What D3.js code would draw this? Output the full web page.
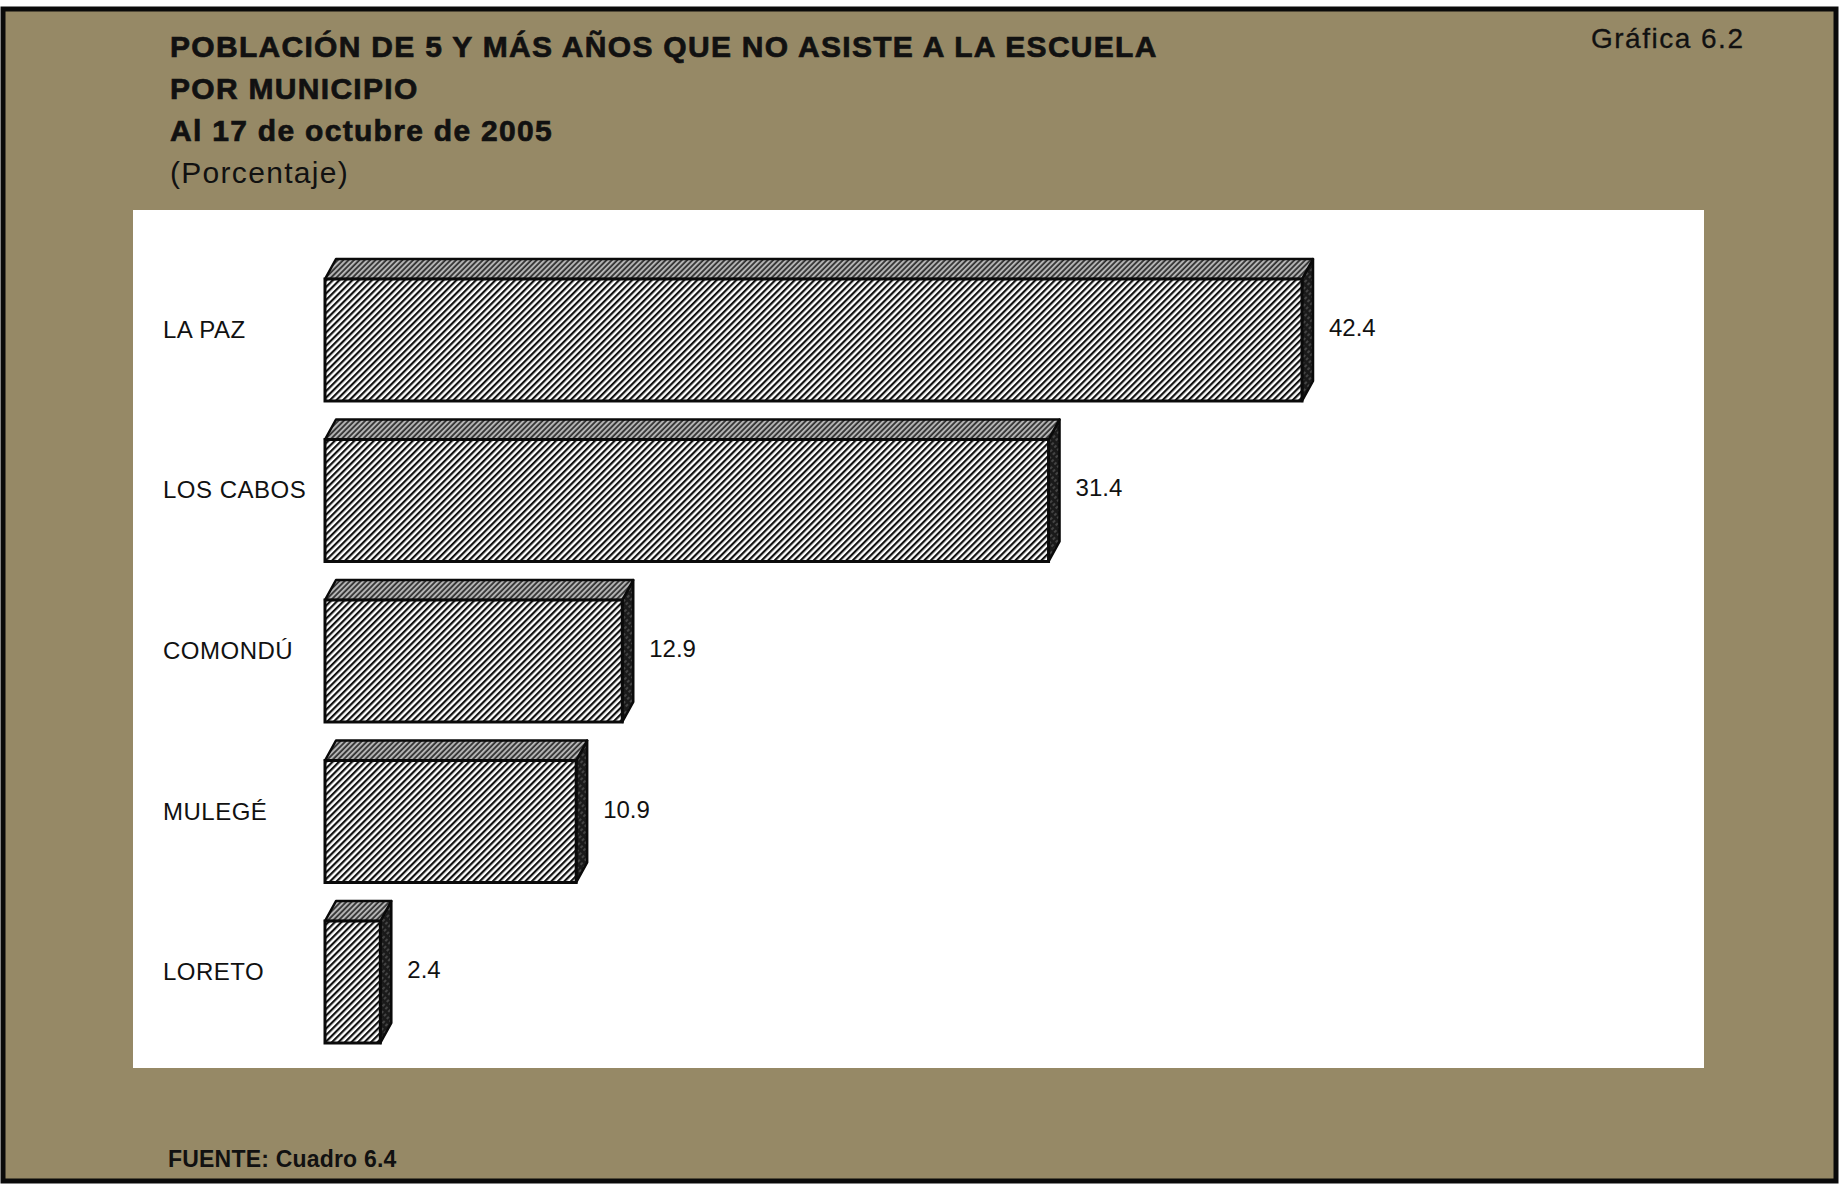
<!DOCTYPE html>
<html>
<head>
<meta charset="utf-8">
<script src="https://cdn.jsdelivr.net/npm/d3@7"></script>
<style>
  html, body { margin: 0; padding: 0; background: #ffffff; }
  svg { display: block; }
  text { font-family: "Liberation Sans", Arial, Helvetica, sans-serif; fill: #111; }
</style>
</head>
<body>
<script>
// ---- data ----
const categories = ["LA PAZ", "LOS CABOS", "COMONDÚ", "MULEGÉ", "LORETO"];
const values = [42.4, 31.4, 12.9, 10.9, 2.4];
const valueLabels = ["42.4", "31.4", "12.9", "10.9", "2.4"];
const titleLines = [
  { text: "POBLACIÓN DE 5 Y MÁS AÑOS QUE NO ASISTE A LA ESCUELA", bold: true },
  { text: "POR MUNICIPIO", bold: true },
  { text: "Al 17 de octubre de 2005", bold: true },
  { text: "(Porcentaje)", bold: false }
];
const chartNumber = "Gráfica 6.2";
const sourceNote = "FUENTE: Cuadro 6.4";

// ---- layout ----
const W = 1845, H = 1186;
const svg = d3.select("body").append("svg").attr("width", W).attr("height", H);

const defs = svg.append("defs");
// front face hatch
const pf = defs.append("pattern").attr("id", "hFront").attr("patternUnits", "userSpaceOnUse")
  .attr("width", 4.6).attr("height", 10).attr("patternTransform", "rotate(45)");
pf.append("rect").attr("width", 4.6).attr("height", 10).attr("fill", "#fff");
pf.append("line").attr("x1", 1.1).attr("x2", 1.1).attr("y1", 0).attr("y2", 10)
  .attr("stroke", "#111").attr("stroke-width", 2.2);
// top face hatch
const pt = defs.append("pattern").attr("id", "hTop").attr("patternUnits", "userSpaceOnUse")
  .attr("width", 3.8).attr("height", 10).attr("patternTransform", "rotate(45)");
pt.append("rect").attr("width", 3.8).attr("height", 10).attr("fill", "#b4b4b4");
pt.append("line").attr("x1", 1).attr("x2", 1).attr("y1", 0).attr("y2", 10)
  .attr("stroke", "#2a2a2a").attr("stroke-width", 1.7);
// side face (almost black)
const ps = defs.append("pattern").attr("id", "hSide").attr("patternUnits", "userSpaceOnUse")
  .attr("width", 4).attr("height", 6).attr("patternTransform", "rotate(45)");
ps.append("rect").attr("width", 4).attr("height", 6).attr("fill", "#1a1a1a");
ps.append("line").attr("x1", 2).attr("x2", 2).attr("y1", 0).attr("y2", 3)
  .attr("stroke", "#777").attr("stroke-width", 0.9);

// background frame
svg.append("rect").attr("x", 3).attr("y", 9).attr("width", 1833).attr("height", 1172)
  .attr("fill", "#968966").attr("stroke", "#0a0a0a").attr("stroke-width", 5);

// white plot panel
svg.append("rect").attr("x", 133).attr("y", 210).attr("width", 1571).attr("height", 858)
  .attr("fill", "#ffffff");

// titles
const tg = svg.append("g");
tg.selectAll("text.title").data(titleLines).join("text")
  .attr("class", "title")
  .attr("x", 170)
  .attr("y", (d, i) => 57 + i * 42)
  .attr("font-size", 30)
  .attr("letter-spacing", 1.3)
  .attr("font-weight", d => d.bold ? "bold" : "normal")
  .attr("stroke", d => d.bold ? "#111" : "none")
  .attr("stroke-width", 0.7)
  .text(d => d.text);

svg.append("text").attr("x", 1591).attr("y", 48).attr("font-size", 28)
  .attr("letter-spacing", 1.5).attr("stroke", "#111").attr("stroke-width", 0.3)
  .text(chartNumber);

svg.append("text").attr("x", 168).attr("y", 1167).attr("font-size", 23)
  .attr("font-weight", "bold").attr("letter-spacing", 0.2).text(sourceNote);

// scales
const x = d3.scaleLinear().domain([0, d3.max(values)]).range([325, 1302]);
const y = d3.scaleBand().domain(categories).range([279, 1043]).paddingInner(0.24);
const dx = 11, dy = 20;

const data = categories.map((c, i) => ({ c, v: values[i], lab: valueLabels[i] }));

const bars = svg.append("g").selectAll("g.bar").data(data).join("g").attr("class", "bar");

// side face
bars.append("path")
  .attr("d", d => {
    const x1 = x(d.v), y0 = y(d.c), y1 = y(d.c) + y.bandwidth();
    return `M${x1},${y0} L${x1 + dx},${y0 - dy} L${x1 + dx},${y1 - dy} L${x1},${y1} Z`;
  })
  .attr("fill", "url(#hSide)").attr("stroke", "#0a0a0a").attr("stroke-width", 2.5)
  .attr("stroke-linejoin", "round");

// top face
bars.append("path")
  .attr("d", d => {
    const x0 = x(0), x1 = x(d.v), y0 = y(d.c);
    return `M${x0},${y0} L${x0 + dx},${y0 - dy} L${x1 + dx},${y0 - dy} L${x1},${y0} Z`;
  })
  .attr("fill", "url(#hTop)").attr("stroke", "#0a0a0a").attr("stroke-width", 2.5)
  .attr("stroke-linejoin", "round");

// front face
bars.append("rect")
  .attr("x", x(0))
  .attr("y", d => y(d.c))
  .attr("width", d => x(d.v) - x(0))
  .attr("height", y.bandwidth())
  .attr("fill", "url(#hFront)").attr("stroke", "#0a0a0a").attr("stroke-width", 3);

// category labels
svg.append("g").selectAll("text").data(data).join("text")
  .attr("x", 163)
  .attr("y", d => y(d.c) + y.bandwidth() / 2 - 2)
  .attr("font-size", 24)
  .attr("letter-spacing", 0.5)
  .text(d => d.c);

// value labels
svg.append("g").selectAll("text").data(data).join("text")
  .attr("x", d => x(d.v) + 27)
  .attr("y", d => y(d.c) + y.bandwidth() / 2 - 4)
  .attr("font-size", 24)
  .text(d => d.lab);
</script>
</body>
</html>
